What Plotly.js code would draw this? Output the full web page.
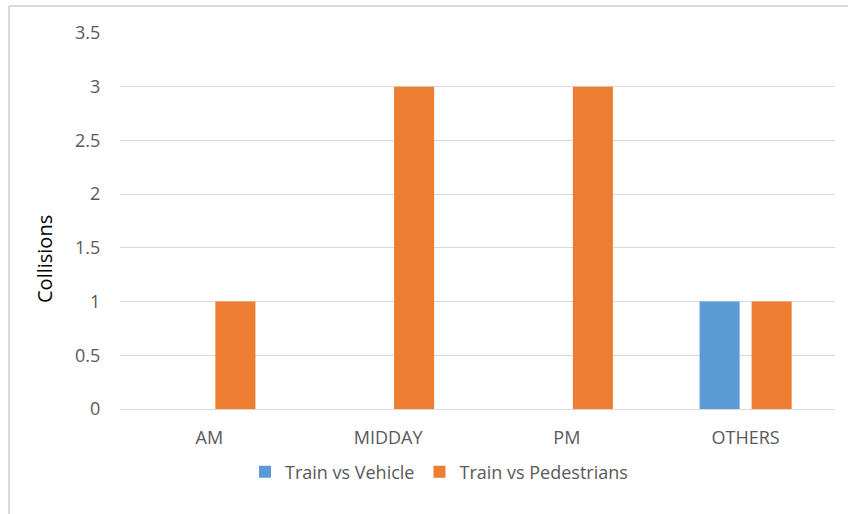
<!DOCTYPE html>
<html>
<head>
<meta charset="utf-8">
<script src="https://cdn.plot.ly/plotly-3.0.1.min.js"></script>
<style>
  html, body { margin: 0; padding: 0; background: #fff; }
  #chart { width: 848px; height: 514px; }
</style>
</head>
<body>
<div id="chart"></div>
<script>
// Collisions by time of day
const categories = ['AM', 'MIDDAY', 'PM', 'OTHERS'];
const trainVsVehicle = [0, 0, 0, 1];
const trainVsPedestrians = [1, 3, 3, 1];
const yTicks = [0, 0.5, 1, 1.5, 2, 2.5, 3, 3.5];

const W = 848, H = 514;
const M = { l: 120, r: 13, t: 33, b: 105 };
const pw = W - M.l - M.r, ph = H - M.t - M.b;
const px = x => (x - M.l) / pw;          // pixel -> paper x
const py = y => (H - M.b - y) / ph;       // pixel -> paper y

const FAMILY = 'Open Sans, Noto Sans, sans-serif';
const textFont = { family: FAMILY, size: 18, color: '#595959' };

const traces = [
  {
    type: 'bar', name: 'Train vs Vehicle',
    x: categories, y: trainVsVehicle,
    marker: { color: '#5B9BD5' },
    hoverinfo: 'skip'
  },
  {
    type: 'bar', name: 'Train vs Pedestrians',
    x: categories, y: trainVsPedestrians,
    marker: { color: '#ED7D31' },
    hoverinfo: 'skip'
  }
];

const layout = {
  width: W, height: H,
  margin: M,
  paper_bgcolor: '#ffffff',
  plot_bgcolor: '#ffffff',
  barmode: 'group',
  bargap: 0.418,
  bargroupgap: 0.23,
  font: textFont,
  xaxis: {
    type: 'category',
    showgrid: false, zeroline: false, showline: false,
    ticks: 'outside', ticklen: 12, tickcolor: 'rgba(0,0,0,0)',
    tickfont: textFont
  },
  yaxis: {
    range: [0, 3.5],
    tickvals: yTicks,
    ticktext: yTicks.map(String),
    showgrid: true, gridcolor: '#D9D9D9', gridwidth: 1,
    zeroline: true, zerolinecolor: '#D9D9D9', zerolinewidth: 1,
    showline: false,
    ticks: 'outside', ticklen: 15, tickcolor: 'rgba(0,0,0,0)',
    tickfont: textFont
  },
  showlegend: true,
  legend: {
    orientation: 'h',
    x: px(245), xanchor: 'left',
    y: py(472), yanchor: 'middle',
    font: textFont,
    itemwidth: 30,
    traceorder: 'normal',
    bgcolor: 'rgba(0,0,0,0)'
  },
  annotations: [
    // value axis title
    { text: 'Collisions', xref: 'paper', yref: 'paper', x: px(44), y: py(259),
      xanchor: 'center', yanchor: 'middle', textangle: -90, showarrow: false,
      font: { family: FAMILY, size: 20, color: '#000000' } }
  ],
  shapes: [
    // chart frame (left and top edges)
    { type: 'line', xref: 'paper', yref: 'paper', x0: px(9), x1: px(9), y0: py(6), y1: py(520),
      line: { color: '#D9D9D9', width: 2 } },
    { type: 'line', xref: 'paper', yref: 'paper', x0: px(9), x1: px(860), y0: py(6), y1: py(6),
      line: { color: '#D9D9D9', width: 2 } }
  ]
};

Plotly.newPlot('chart', traces, layout, { displayModeBar: false, staticPlot: true });
</script>
</body>
</html>
